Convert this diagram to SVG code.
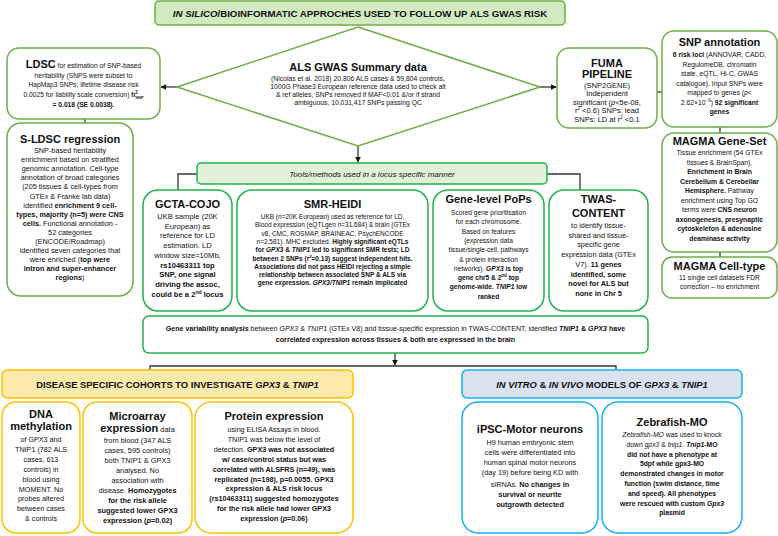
<svg xmlns="http://www.w3.org/2000/svg" width="778" height="536" viewBox="0 0 778 536">
<defs>
<marker id="arr" viewBox="0 0 10 10" refX="9" refY="5" markerWidth="6" markerHeight="6" orient="auto" markerUnits="userSpaceOnUse">
<path d="M0,0 L10,5 L0,10 z" fill="#111"/>
</marker>
<style>
text{font-family:"Liberation Sans",Arial,sans-serif;text-anchor:middle;fill:#111}
.lg{fill:#fff;stroke:#70ad47;stroke-width:1.5}
.bg{fill:#fff;stroke:#1fb34a;stroke-width:1.5}
.yw{fill:#fff;stroke:#ffc000;stroke-width:1.5}
.bl{fill:#fff;stroke:#14b1ee;stroke-width:1.5}
.h{font-weight:bold;font-size:11px}
.bd{font-weight:bold}
.it{font-style:italic}
.con{fill:none;stroke:#333;stroke-width:1.3}
</style>
</defs>

<g id="connectors">
<line class="con" x1="177" y1="87" x2="161" y2="87" marker-end="url(#arr)"/>
<line class="con" x1="540" y1="87" x2="556" y2="87" marker-end="url(#arr)"/>
<line class="con" x1="358" y1="146" x2="358" y2="162" marker-end="url(#arr)"/>
<line class="con" x1="657" y1="92" x2="662" y2="92"/>
<line class="con" x1="85" y1="119" x2="85" y2="123"/>
<line class="con" x1="720" y1="127" x2="720" y2="133"/>
<line class="con" x1="720" y1="252" x2="720" y2="257"/>
<polyline class="con" points="197,174 178,174 178,190"/>
<polyline class="con" points="547,174 580,174 580,190"/>
<line class="con" x1="395" y1="353" x2="395" y2="365" marker-end="url(#arr)"/>
<polyline class="con" points="150,371 150,366 616,366 616,371"/>
</g>

<g id="title">
<rect x="155" y="1" width="410" height="24" rx="4" fill="#d3e9c1" stroke="#70ad47" stroke-width="1.5"/>
<text x="360" y="17" font-size="9.7" class="bd"><tspan class="it">IN SILICO</tspan>/BIOINFORMATIC APPROCHES USED TO FOLLOW UP ALS GWAS RISK</text>
</g>

<g id="gwas">
<polygon points="358,27 540,87 358,146 177,87" fill="#fff" stroke="#70ad47" stroke-width="1.5"/>
<text x="358" y="71" class="h">ALS GWAS Summary data</text>
<g font-size="6.8">
<text x="358" y="81">(Nicolas et al. 2018) 20,806 ALS cases &amp; 59,804 controls,</text>
<text x="358" y="89">1000G Phase3 European reference data used to check alt</text>
<text x="358" y="97">&amp; ref alleles, SNPs removed if MAF&lt;0.01 &amp;/or if strand</text>
<text x="358" y="105">ambiguous, 10,031,417 SNPs passing QC</text>
</g>
</g>

<g id="ldsc">
<rect class="lg" x="7" y="48" width="153" height="71" rx="12"/>
<g font-size="6.7">
<text x="83.5" y="68"><tspan class="bd" font-size="11">LDSC</tspan> for estimation of SNP-based</text>
<text x="83.5" y="77.5">heritability (SNPS were subset to</text>
<text x="83.5" y="87">HapMap3 SNPs; lifetime disease risk</text>
<text x="83.5" y="97">0.0025 for liability scale conversion) <tspan class="bd">h</tspan><tspan class="bd" font-size="4.5" dy="-3">2</tspan><tspan class="bd" font-size="4" dx="-2.5" dy="4.5">SNP</tspan></text>
<text x="83.5" y="106.5" class="bd">= 0.018 (SE 0.0038).</text>
</g>
</g>

<g id="sldsc">
<rect class="lg" x="7" y="123" width="126" height="173" rx="14"/>
<text x="70" y="143" class="h">S-LDSC regression</text>
<g font-size="7.3">
<text x="70" y="153">SNP-based heritability</text>
<text x="70" y="162.1">enrichment based on stratified</text>
<text x="70" y="171.2">genomic annotation. Cell-type</text>
<text x="70" y="180.3">annotation of broad categories</text>
<text x="70" y="189.4">(205 tissues &amp; cell-types from</text>
<text x="70" y="198.5">GTEx &amp; Franke lab data)</text>
<text x="70" y="207.6">identified <tspan class="bd">enrichment 9 cell-</tspan></text>
<text x="70" y="216.7" class="bd">types, majority (n=5) were CNS</text>
<text x="70" y="225.8"><tspan class="bd">cells.</tspan> Functional annotation -</text>
<text x="70" y="234.9">52 categories</text>
<text x="70" y="244">(ENCODE/Roadmap)</text>
<text x="70" y="253.1">identified seven categories that</text>
<text x="70" y="262.2">were enriched (<tspan class="bd">top were</tspan></text>
<text x="70" y="271.3" class="bd">intron and super-enhancer</text>
<text x="70" y="280.4"><tspan class="bd">regions</tspan>)</text>
</g>
</g>

<g id="fuma">
<rect class="lg" x="557" y="48" width="100" height="80" rx="12"/>
<text x="607" y="67" class="h">FUMA</text>
<text x="607" y="78" class="h">PIPELINE</text>
<g font-size="7.5">
<text x="607" y="87.5">(SNP2GENE)</text>
<text x="607" y="96">Independent</text>
<text x="607" y="104.5">significant (<tspan class="it">p</tspan>&lt;5e-08,</text>
<text x="607" y="113">r<tspan font-size="4.5" dy="-3">2</tspan><tspan dy="3"> &lt;0.6) SNPs: lead</tspan></text>
<text x="607" y="121.5">SNPs: LD at r<tspan font-size="4.5" dy="-3">2</tspan><tspan dy="3"> &lt;0.1</tspan></text>
</g>
</g>

<g id="snpannot">
<rect class="lg" x="662" y="31" width="115" height="96" rx="12"/>
<text x="719.5" y="46" class="h" font-size="10.5">SNP annotation</text>
<g font-size="6.8">
<text x="719.5" y="57"><tspan class="bd">6 risk loci</tspan> (ANNOVAR, CADD,</text>
<text x="719.5" y="66.5">RegulomeDB, chromatin</text>
<text x="719.5" y="76">state, eQTL, Hi-C, GWAS</text>
<text x="719.5" y="85.5">catalogue). Input SNPs were</text>
<text x="719.5" y="95">mapped to genes (<tspan class="it">p</tspan>&lt;</text>
<text x="719.5" y="104.5">2.62×10<tspan font-size="4.5" dy="-3">−6</tspan><tspan dy="3">) </tspan><tspan class="bd">92 significant</tspan></text>
<text x="719.5" y="114" class="bd">genes</text>
</g>
</g>

<g id="magmags">
<rect class="lg" x="662" y="133" width="115" height="119" rx="12"/>
<text x="719.5" y="145" class="h" font-size="10.5">MAGMA Gene-Set</text>
<g font-size="6.8">
<text x="719.5" y="155">Tissue enrichment (54 GTEx</text>
<text x="719.5" y="164.5">tissues &amp; BrainSpan).</text>
<text x="719.5" y="174" class="bd">Enrichment in Brain</text>
<text x="719.5" y="183.5" class="bd">Cerebellum &amp; Cerebellar</text>
<text x="719.5" y="193"><tspan class="bd">Hemisphere.</tspan> Pathway</text>
<text x="719.5" y="202.5">enrichment using Top GO</text>
<text x="719.5" y="212">terms were <tspan class="bd">CNS neuron</tspan></text>
<text x="719.5" y="221.5" class="bd">axonogenesis, presynaptic</text>
<text x="719.5" y="231" class="bd">cytoskeleton &amp; adenosine</text>
<text x="719.5" y="240.5" class="bd">deaminase activity</text>
</g>
</g>

<g id="magmact">
<rect class="lg" x="662" y="257" width="115" height="41" rx="10"/>
<text x="719.5" y="270" class="h" font-size="10.5">MAGMA Cell-type</text>
<g font-size="6.7">
<text x="719.5" y="280">11 single cell datasets  FDR</text>
<text x="719.5" y="289">correction – no enrichment</text>
</g>
</g>

<g id="tools">
<rect x="197" y="163" width="350" height="21" rx="4" fill="#e2efd9" stroke="#1fb34a" stroke-width="1.5"/>
<text x="372" y="176.5" font-size="8" class="it">Tools/methods used in a locus specific manner</text>
</g>

<g id="gcta">
<rect class="bg" x="143" y="190" width="89" height="121" rx="15"/>
<text x="187.5" y="208" class="h">GCTA-COJO</text>
<g font-size="7.6">
<text x="187.5" y="219">UKB sample (20K</text>
<text x="187.5" y="228.7">European) as</text>
<text x="187.5" y="238.4">reference for LD</text>
<text x="187.5" y="248.1">estimation. LD</text>
<text x="187.5" y="257.8">window size=10Mb,</text>
<text x="187.5" y="267.5" class="bd">rs10463311 top</text>
<text x="187.5" y="277.2" class="bd">SNP, one signal</text>
<text x="187.5" y="286.9" class="bd">driving the assoc,</text>
<text x="187.5" y="296.6" class="bd">could be a 2<tspan font-size="5" dy="-3">nd</tspan><tspan dy="3"> locus</tspan></text>
</g>
</g>

<g id="smr">
<rect class="bg" x="237" y="190" width="191" height="121" rx="15"/>
<text x="332.5" y="208" class="h" font-size="10.5">SMR-HEIDI</text>
<g font-size="6.5">
<text x="332.5" y="219">UKB (n=20K European) used as reference for LD,</text>
<text x="332.5" y="227.3">Blood expression (eQTLgen n=31,684) &amp; brain (GTEx</text>
<text x="332.5" y="235.6">v8, CMC, ROSMAP, BRAINEAC, PsychENCODE</text>
<text x="332.5" y="243.9">n=2,581). MHC excluded. <tspan class="bd">Highly significant eQTLs</tspan></text>
<text x="332.5" y="252.2" class="bd">for <tspan class="it">GPX3</tspan> &amp; <tspan class="it">TNIP1</tspan> led to significant SMR tests; LD</text>
<text x="332.5" y="260.5" class="bd">between 2 SNPs (r<tspan font-size="4.3" dy="-3">2</tspan><tspan dy="3">=0.13) suggest independent hits.</tspan></text>
<text x="332.5" y="268.8" class="bd">Associations did not pass HEIDI rejecting a simple</text>
<text x="332.5" y="277.1" class="bd">relationship between associated SNP &amp; ALS via</text>
<text x="332.5" y="285.4" class="bd">gene expression. <tspan class="it">GPX3/TNIP1</tspan> remain implicated</text>
</g>
</g>

<g id="pops">
<rect class="bg" x="433" y="190" width="111" height="121" rx="15"/>
<text x="488.5" y="203" class="h" font-size="10.5">Gene-level PoPs</text>
<g font-size="6.6">
<text x="488.5" y="215">Scored gene prioritisation</text>
<text x="488.5" y="224.3">for each chromosome.</text>
<text x="488.5" y="233.6">Based on features</text>
<text x="488.5" y="242.9">(expression data</text>
<text x="488.5" y="252.2">tissue/single-cell, pathways</text>
<text x="488.5" y="261.5">&amp; protein interaction</text>
<text x="488.5" y="270.8">networks). <tspan class="bd it">GPX3</tspan><tspan class="bd"> is top</tspan></text>
<text x="488.5" y="280.1" class="bd">gene chr5 &amp; 2<tspan font-size="4.5" dy="-3">nd</tspan><tspan dy="3"> top</tspan></text>
<text x="488.5" y="289.4" class="bd">genome-wide. <tspan class="it">TNIP1</tspan> low</text>
<text x="488.5" y="298.7" class="bd">ranked</text>
</g>
</g>

<g id="twas">
<rect class="bg" x="549" y="190" width="99" height="121" rx="15"/>
<text x="598.5" y="203" class="h">TWAS-</text>
<text x="598.5" y="217" class="h">CONTENT</text>
<g font-size="7.3">
<text x="598.5" y="228">to identify tissue-</text>
<text x="598.5" y="237.7">shared and tissue-</text>
<text x="598.5" y="247.4">specific gene</text>
<text x="598.5" y="257.1">expression data (GTEx</text>
<text x="598.5" y="266.8">V7). <tspan class="bd">11 genes</tspan></text>
<text x="598.5" y="276.5" class="bd">identified, some</text>
<text x="598.5" y="286.2" class="bd">novel for ALS but</text>
<text x="598.5" y="295.9" class="bd">none in Chr 5</text>
</g>
</g>

<g id="genevar">
<rect class="bg" x="143" y="316" width="505" height="37" rx="6"/>
<g font-size="7.1">
<text x="395.5" y="331"><tspan class="bd">Gene variability analysis</tspan> between <tspan class="it">GPX3</tspan> &amp; <tspan class="it">TNIP1</tspan> (GTEx V8) and tissue-specific expression in TWAS-CONTENT, identified <tspan class="bd it">TNIP1</tspan><tspan class="bd"> &amp; </tspan><tspan class="bd it">GPX3</tspan><tspan class="bd"> have</tspan></text>
<text x="395.5" y="342" class="bd">correlated expression across tissues &amp; both are expressed in the brain</text>
</g>
</g>

<g id="cohorts">
<rect x="2" y="370" width="351" height="28" rx="5" fill="#fde9a9" stroke="#ffc000" stroke-width="1.5"/>
<text x="177.5" y="388" font-size="9.4" class="bd">DISEASE SPECIFIC COHORTS TO INVESTIGATE <tspan class="it">GPX3</tspan> &amp; <tspan class="it">TNIP1</tspan></text>
</g>

<g id="dnameth">
<rect class="yw" x="2" y="402" width="78" height="131" rx="14"/>
<text x="41" y="418" class="h">DNA</text>
<text x="41" y="430" class="h">methylation</text>
<g font-size="7.2">
<text x="41" y="442">of GPX3 and</text>
<text x="41" y="451.9">TNIP1 (782 ALS</text>
<text x="41" y="461.8">cases, 613</text>
<text x="41" y="471.7">controls) in</text>
<text x="41" y="481.6">blood using</text>
<text x="41" y="491.5">MOMENT. No</text>
<text x="41" y="501.4">probes altered</text>
<text x="41" y="511.3">between cases</text>
<text x="41" y="521.2">&amp; controls</text>
</g>
</g>

<g id="microarray">
<rect class="yw" x="83" y="402" width="109" height="131" rx="14"/>
<text x="137.5" y="420" class="h">Microarray</text>
<text x="137.5" y="432"><tspan class="h">expression</tspan><tspan font-size="7.4"> data</tspan></text>
<g font-size="7.4">
<text x="137.5" y="442.5">from blood (347 ALS</text>
<text x="137.5" y="452.5">cases, 595 controls)</text>
<text x="137.5" y="462.5">both TNIP1 &amp; GPX3</text>
<text x="137.5" y="472.5">analysed. No</text>
<text x="137.5" y="482.5">association with</text>
<text x="137.5" y="492.5">disease. <tspan class="bd">Homozygotes</tspan></text>
<text x="137.5" y="502.5" class="bd">for the risk allele</text>
<text x="137.5" y="512.5" class="bd">suggested lower GPX3</text>
<text x="137.5" y="522.5" class="bd">expression (<tspan class="it">p</tspan>=0.02)</text>
</g>
</g>

<g id="protein">
<rect class="yw" x="195" y="402" width="158" height="131" rx="16"/>
<text x="274" y="420" class="h">Protein expression</text>
<g font-size="7.2">
<text x="274" y="432">using ELISA Assays in blood.</text>
<text x="274" y="441.9">TNIP1 was below the level of</text>
<text x="274" y="451.8">detection. <tspan class="bd">GPX3 was not associated</tspan></text>
<text x="274" y="461.7" class="bd">w/ case/control status but was</text>
<text x="274" y="471.6" class="bd">correlated with ALSFRS (n=49), was</text>
<text x="274" y="481.5" class="bd">replicated (n=198), p=0.0055. GPX3</text>
<text x="274" y="491.4" class="bd">expression &amp; ALS risk locus</text>
<text x="274" y="501.3" class="bd">(rs10463311) suggested homozygotes</text>
<text x="274" y="511.2" class="bd">for the risk allele had lower GPX3</text>
<text x="274" y="521.1" class="bd">expression (<tspan class="it">p</tspan>=0.06)</text>
</g>
</g>

<g id="models">
<rect x="462" y="370" width="280" height="28" rx="5" fill="#d9e2ef" stroke="#14b1ee" stroke-width="1.5"/>
<text x="602" y="388" font-size="9.4" class="bd"><tspan class="it">IN VITRO</tspan> &amp; <tspan class="it">IN VIVO</tspan> MODELS OF <tspan class="it">GPX3</tspan> &amp; <tspan class="it">TNIP1</tspan></text>
</g>

<g id="ipsc">
<rect class="bl" x="462" y="402" width="136" height="131" rx="16"/>
<text x="530" y="433" class="h" font-size="10.5">iPSC-Motor neurons</text>
<g font-size="7.3">
<text x="530" y="445">H9 human embryonic stem</text>
<text x="530" y="455">cells were differentiated into</text>
<text x="530" y="465">human spinal motor neurons</text>
<text x="530" y="475">(day 19) before being KD with</text>
<text x="530" y="487">siRNAs. <tspan class="bd">No changes in</tspan></text>
<text x="530" y="497" class="bd">survival or neurite</text>
<text x="530" y="507" class="bd">outgrowth detected</text>
</g>
</g>

<g id="zebrafish">
<rect class="bl" x="602" y="402" width="140" height="131" rx="16"/>
<text x="672" y="426" class="h" font-size="10.5">Zebrafish-MO</text>
<g font-size="6.8">
<text x="672" y="437"><tspan class="it">Zebrafish-MO</tspan> was used to knock</text>
<text x="672" y="446.8">down <tspan class="it">gpx3</tspan> &amp; <tspan class="it">tnip1</tspan>. <tspan class="bd it">Tnip1</tspan><tspan class="bd">-MO</tspan></text>
<text x="672" y="456.6" class="bd">did not have a phenotype at</text>
<text x="672" y="466.4" class="bd">5dpf while gpx3-MO</text>
<text x="672" y="476.2" class="bd">demonstrated changes in motor</text>
<text x="672" y="486" class="bd">function (swim distance, time</text>
<text x="672" y="495.8" class="bd">and speed). All phenotypes</text>
<text x="672" y="505.6" class="bd">were rescued with custom <tspan class="it">Gpx3</tspan></text>
<text x="672" y="515.4" class="bd">plasmid</text>
</g>
</g>
</svg>
